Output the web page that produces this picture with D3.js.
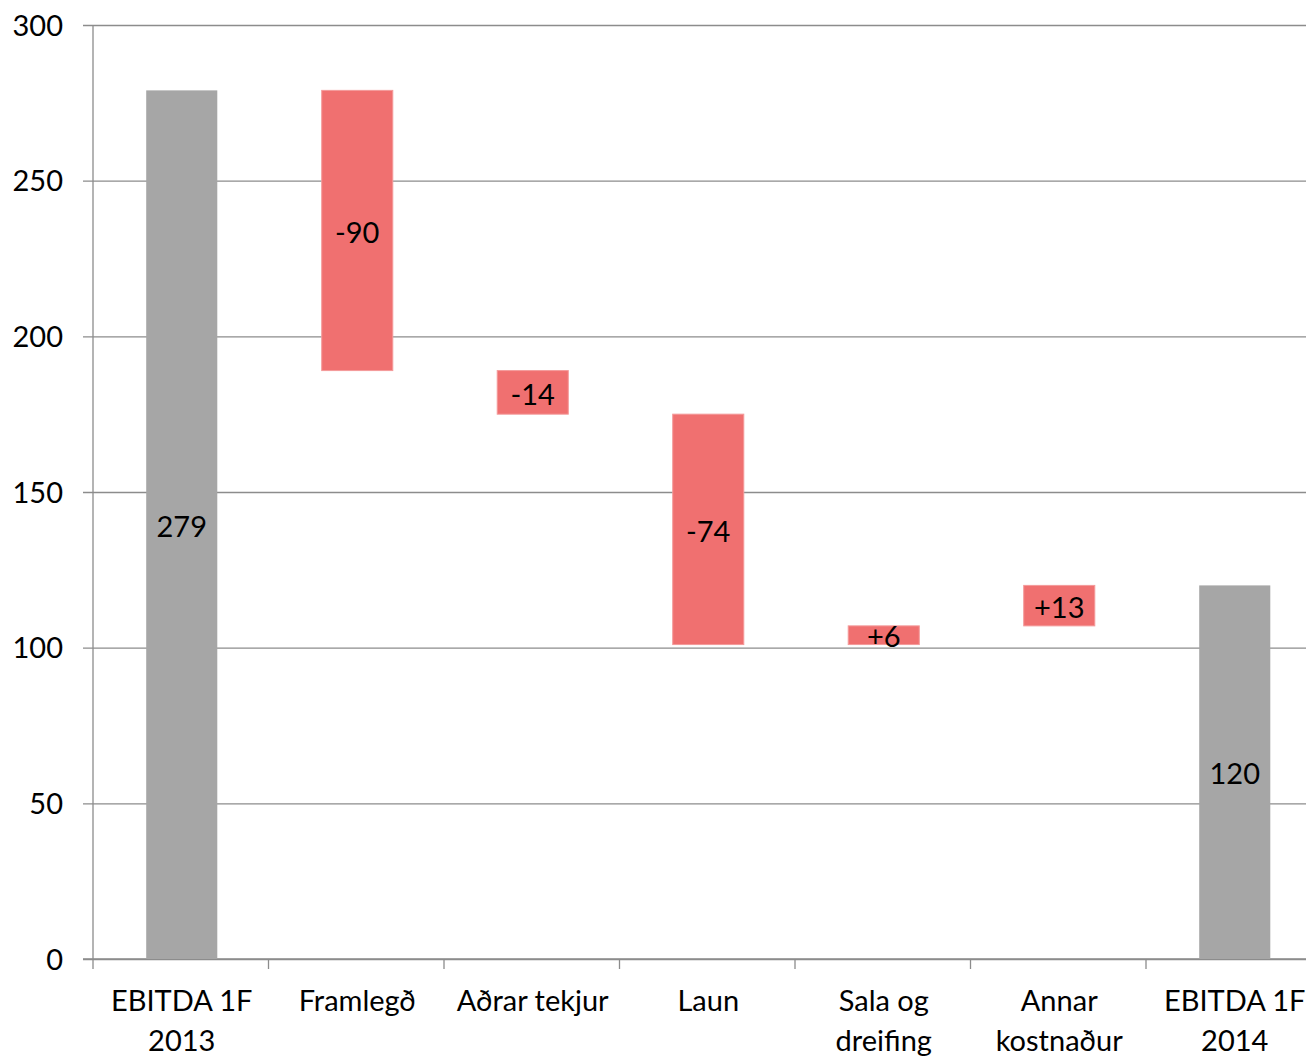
<!DOCTYPE html>
<html>
<head>
<meta charset="utf-8">
<script src="https://cdn.jsdelivr.net/npm/d3@7"></script>
<style>
  body { margin: 0; background: #fff; }
  svg text { font-family: Lato, "Open Sans", sans-serif; fill: #000; }
</style>
</head>
<body>
<div id="chart"></div>
<script>
// waterfall data
const categories = [["EBITDA 1F", "2013"], ["Framlegð"], ["Aðrar tekjur"], ["Laun"], ["Sala og", "dreifing"], ["Annar", "kostnaður"], ["EBITDA 1F", "2014"]];
const changes = [279, -90, -14, -74, 6, 13, 120];
const barLabels = ["279", "-90", "-14", "-74", "+6", "+13", "120"];
const isTotal = [true, false, false, false, false, false, true];
const yTicks = [0, 50, 100, 150, 200, 250, 300];

const width = 1306, height = 1057;
const margin = { top: 25, left: 93, bottom: 98 };
const plotW = 1228.5; // plot runs a bit past the right edge, like the original crop
const plotH = height - margin.top - margin.bottom;
const fontSize = 29;

// running totals -> start / end for each bar
let running = 0;
const bars = changes.map((v, i) => {
    let y0, y1;
    if (isTotal[i]) { y0 = 0; y1 = v; running = v; }
    else { y0 = running; y1 = running + v; running = y1; }
    return { i, lo: Math.min(y0, y1), hi: Math.max(y0, y1), label: barLabels[i], total: isTotal[i] };
});

const svg = d3.select("#chart").append("svg")
    .attr("width", width)
    .attr("height", height);

const g = svg.append("g")
    .attr("transform", "translate(" + margin.left + "," + margin.top + ")");

const x = d3.scaleBand()
    .domain(d3.range(categories.length))
    .range([0, plotW])
    .paddingInner(0.595)
    .paddingOuter(0.2975);

const xStep = d3.scaleLinear().domain([0, categories.length]).range([0, plotW]);

const y = d3.scaleLinear()
    .domain([0, 300])
    .range([plotH, 0]);

// gridlines + y labels
const yAxis = g.append("g")
    .call(d3.axisLeft(y).tickValues(yTicks).tickSize(-plotW - 10).tickPadding(20))
    .attr("transform", "translate(-10,0)");
yAxis.select(".domain").remove();
yAxis.selectAll(".tick line").attr("stroke", "#8c8c8c").attr("stroke-width", 1.3);
yAxis.selectAll(".tick text").attr("font-size", fontSize).attr("dy", "0.35em");

// y axis line
g.append("line")
    .attr("x1", 0).attr("x2", 0)
    .attr("y1", 0).attr("y2", plotH)
    .attr("stroke", "#8c8c8c").attr("stroke-width", 1.3);

// x axis line + ticks between categories
g.append("line")
    .attr("x1", -10).attr("x2", plotW)
    .attr("y1", plotH).attr("y2", plotH)
    .attr("stroke", "#8c8c8c").attr("stroke-width", 1.3);

g.selectAll(".xtick")
    .data(d3.range(categories.length + 1))
    .enter()
    .append("line")
    .attr("class", "xtick")
    .attr("x1", d => xStep(d)).attr("x2", d => xStep(d))
    .attr("y1", plotH).attr("y2", plotH + 10)
    .attr("stroke", "#8c8c8c").attr("stroke-width", 1.3);

// bars (nudged 1px right, as in the original)
g.selectAll(".bar")
    .data(bars)
    .enter()
    .append("rect")
    .attr("class", "bar")
    .attr("x", d => x(d.i) + 1)
    .attr("width", x.bandwidth())
    .attr("y", d => y(d.hi))
    .attr("height", d => y(d.lo) - y(d.hi))
    .attr("fill", d => d.total ? "#a6a6a6" : "#f07070")
    .attr("stroke", d => d.total ? "none" : "#f49a9a")
    .attr("stroke-width", 1);

// value labels in the middle of each bar
g.selectAll(".val")
    .data(bars)
    .enter()
    .append("text")
    .attr("class", "val")
    .attr("x", d => x(d.i) + 1 + x.bandwidth() / 2)
    .attr("y", d => y((d.lo + d.hi) / 2))
    .attr("dy", "0.42em")
    .attr("text-anchor", "middle")
    .attr("font-size", fontSize)
    .text(d => d.label);

// category labels
const cat = g.selectAll(".cat")
    .data(categories)
    .enter()
    .append("text")
    .attr("class", "cat")
    .attr("x", (d, i) => x(i) + 1 + x.bandwidth() / 2)
    .attr("y", plotH + 52)
    .attr("text-anchor", "middle")
    .attr("font-size", fontSize);

cat.selectAll("tspan")
    .data(d => d)
    .enter()
    .append("tspan")
    .attr("x", function () { return this.parentNode.getAttribute("x"); })
    .attr("dy", (d, i) => i === 0 ? 0 : 40)
    .text(d => d);
</script>
</body>
</html>
